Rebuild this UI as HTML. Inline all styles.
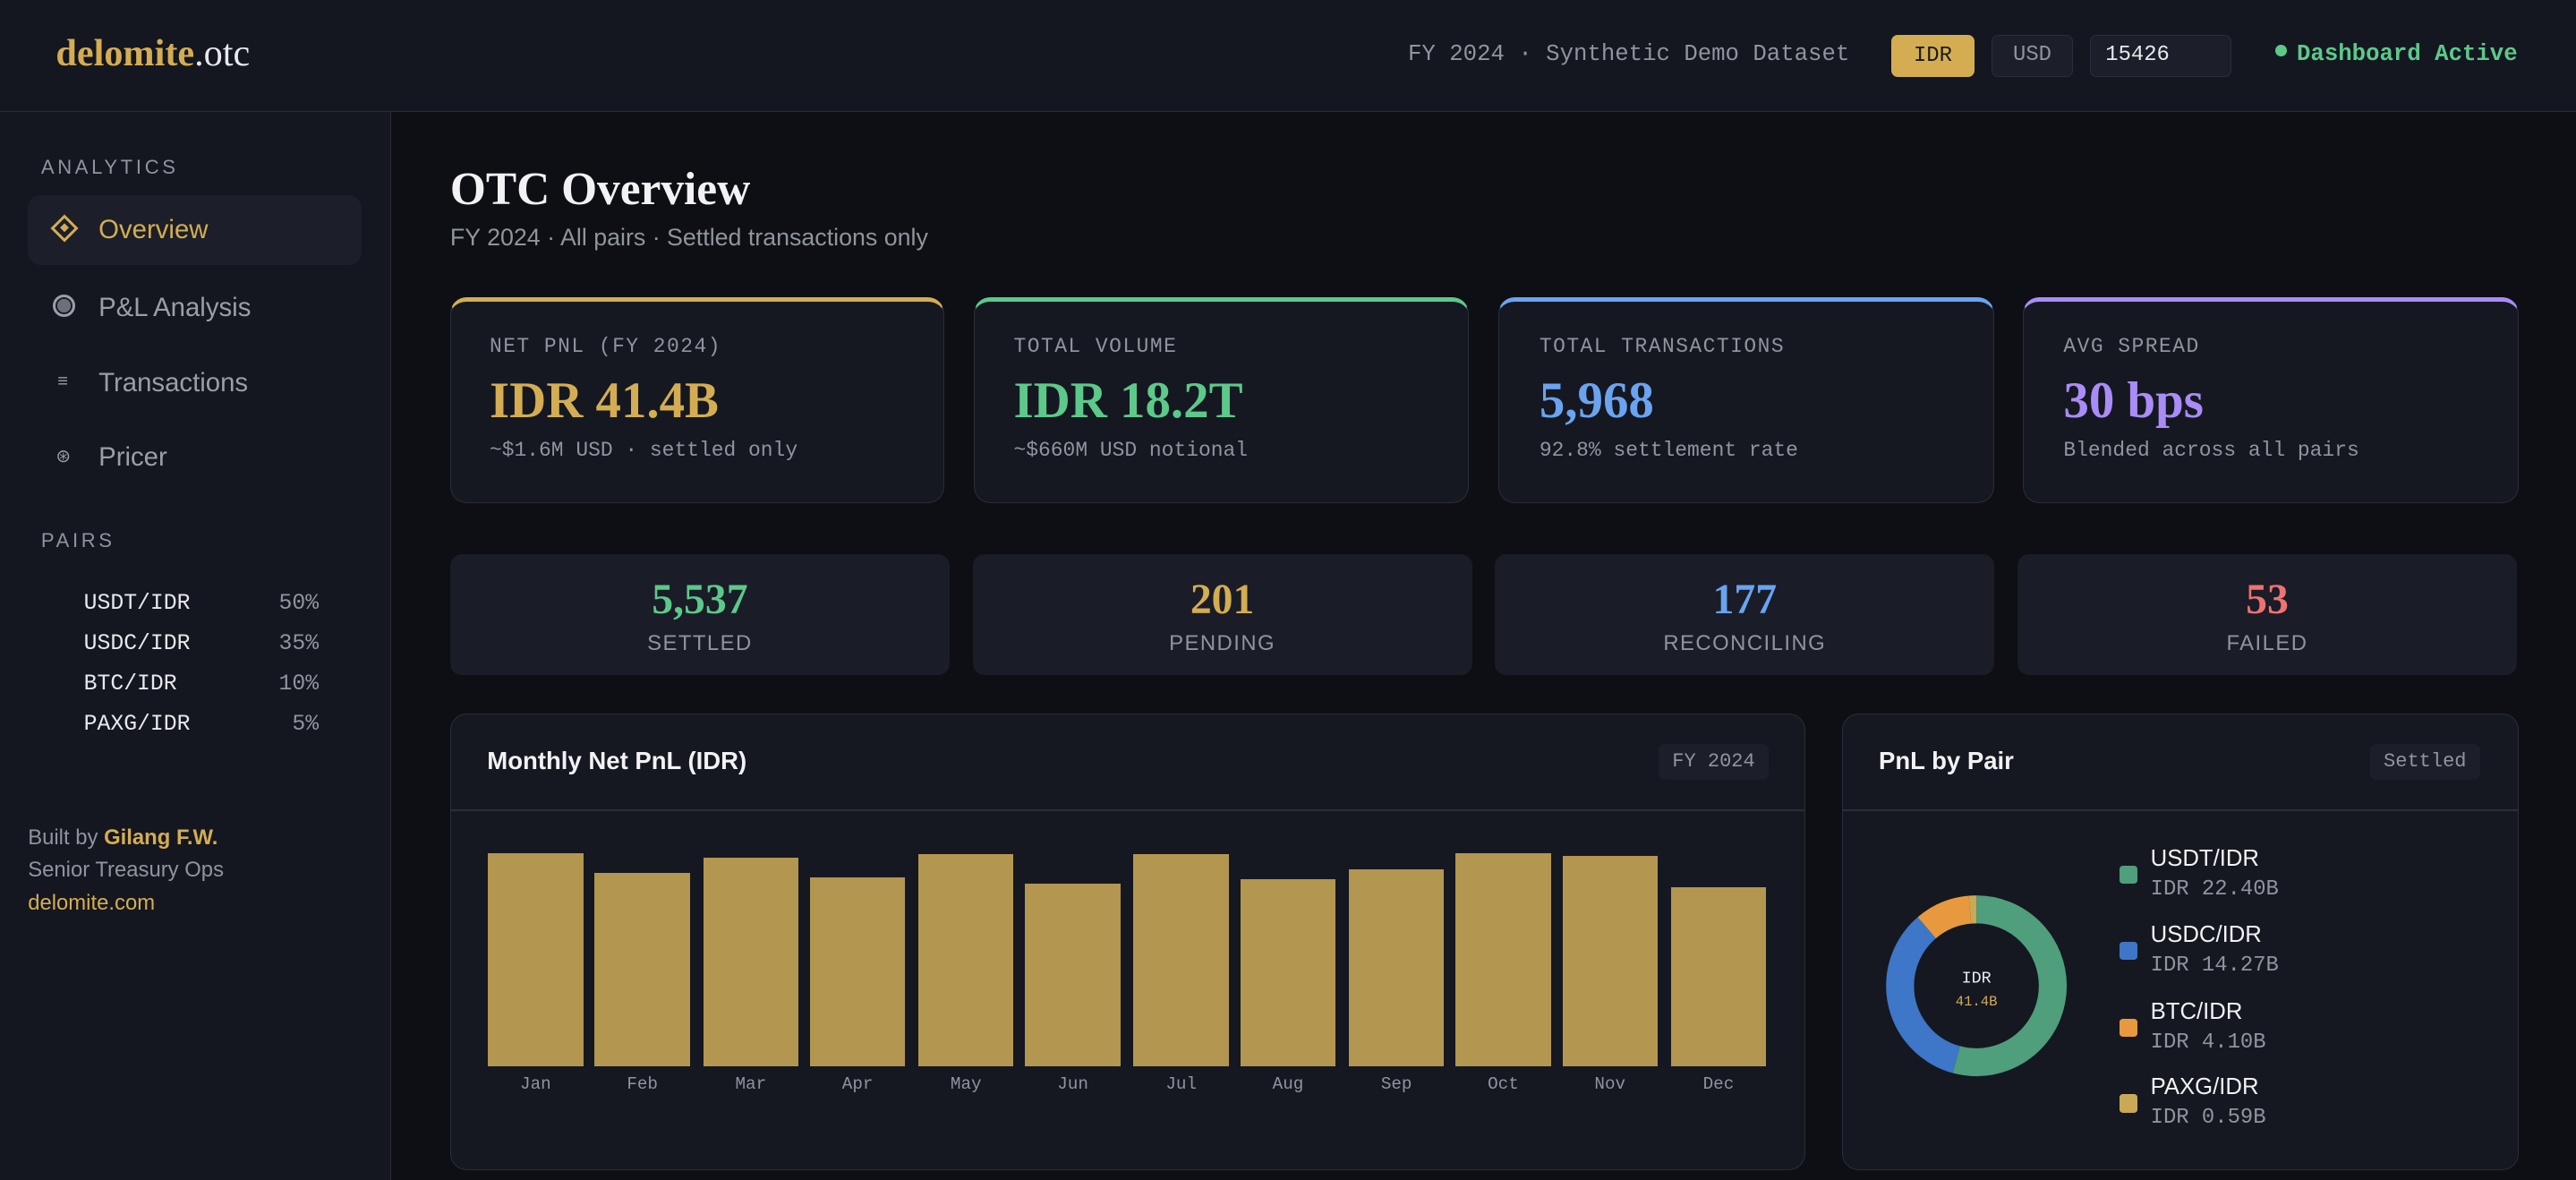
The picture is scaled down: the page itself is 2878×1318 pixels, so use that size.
<!DOCTYPE html>
<html><head><meta charset="utf-8"><style>
*{margin:0;padding:0;box-sizing:border-box}
html,body{width:2878px;height:1318px;overflow:hidden;background:#0d0f14}
#r{zoom:1.8355;width:1568px;height:718px;position:relative;font-family:"Liberation Sans",sans-serif;color:#e8e9ec}
.a{position:absolute;white-space:nowrap}
.mono{font-family:"Liberation Mono",monospace}
.serif{font-family:"Liberation Serif",serif;font-weight:bold}
.card{position:absolute;background:#151821;border:1px solid #2a2e38;border-radius:10px;overflow:hidden}
.lab{font-size:12.5px;letter-spacing:0.8px;color:#8f949e}
.big{font-size:31px;letter-spacing:0}
.sub{font-size:12.5px;color:#8f949e}
.st{position:absolute;top:337px;height:74px;background:#1a1d27;border-radius:7px;text-align:center}
.st .n{font-family:"Liberation Serif",serif;font-weight:bold;font-size:26px;margin-top:13px;line-height:30px}
.st .l{font-size:13px;letter-spacing:0.8px;color:#8f949e;margin-top:4px}
.bar{position:absolute;background:#b3964f;width:58px;bottom:69px}
.ml{position:absolute;top:654px;width:58px;text-align:center;font-size:10.5px;color:#8f949e;font-family:"Liberation Mono",monospace}
</style></head><body><div id="r">
<div class="a" style="left:0;top:0;width:1568px;height:68px;background:#141720;border-bottom:1px solid #2a2e38"></div>
<div class="a" style="left:34px;top:19px;font-size:23px;font-family:'Liberation Serif',serif"><b style="color:#d4ad52">delomite</b><span style="color:#e8e9ec">.otc</span></div>
<div class="a mono" style="left:857px;top:25px;font-size:14px;color:#8f949e">FY 2024 · Synthetic Demo Dataset</div>
<div class="a mono" style="left:1151px;top:21px;width:51px;height:26px;background:#d4ad52;border-radius:4px;color:#1a1a1a;font-size:13px;text-align:center;line-height:26px">IDR</div>
<div class="a mono" style="left:1212px;top:21px;width:50px;height:26px;background:#1c1f29;border:1px solid #2a2e38;border-radius:4px;color:#8f949e;font-size:13px;text-align:center;line-height:24px">USD</div>
<div class="a mono" style="left:1272px;top:21px;width:86px;height:26px;background:#1c1f29;border:1px solid #2a2e38;border-radius:4px;color:#e8e9ec;font-size:13px;line-height:24px;padding-left:9px">15426</div>
<div class="a mono" style="left:1385px;top:25px;font-size:14px;color:#5cc98a;font-weight:bold"><span style="display:inline-block;width:7px;height:7px;border-radius:50%;background:#5cc98a;vertical-align:2px;margin-right:6px"></span>Dashboard Active</div>
<div class="a" style="left:0;top:68px;width:238px;height:650px;background:#141720;border-right:1px solid #2a2e38"></div>
<div class="a lab" style="left:25px;top:95px;font-size:12px;letter-spacing:2px">ANALYTICS</div>
<div class="a" style="left:17px;top:119px;width:203px;height:42px;background:#1c1f29;border-radius:8px"></div>
<div class="a" style="left:33px;top:133px;width:12px;height:12px;border:2px solid #d4ad52;transform:rotate(45deg)"><div style="margin:2px;width:4px;height:4px;background:#d4ad52"></div></div>
<div class="a" style="left:60px;top:131px;font-size:16px;color:#d4ad52">Overview</div>
<div class="a" style="left:32px;top:179px;width:14px;height:14px;border-radius:50%;background:#6b707a;border:2px solid #9a9ea6;box-shadow:inset 0 0 0 1px #141720"></div>
<div class="a" style="left:60px;top:178px;font-size:16px;color:#9a9ea6">P&amp;L Analysis</div>
<div class="a" style="left:35px;top:226px;font-size:11px;color:#9a9ea6">≡</div>
<div class="a" style="left:60px;top:224px;font-size:16px;color:#9a9ea6">Transactions</div>
<div class="a" style="left:34px;top:271px;font-size:11px;color:#9a9ea6">⊛</div>
<div class="a" style="left:60px;top:269px;font-size:16px;color:#9a9ea6">Pricer</div>
<div class="a lab" style="left:25px;top:322px;font-size:12px;letter-spacing:2px">PAIRS</div>
<div class="a mono" style="left:51px;top:355px;font-size:13.5px;line-height:24.5px;color:#e8e9ec">USDT/IDR<br>USDC/IDR<br>BTC/IDR<br>PAXG/IDR</div>
<div class="a mono" style="left:150px;width:44px;top:355px;font-size:13.5px;line-height:24.5px;color:#8f949e;text-align:right">50%<br>35%<br>10%<br>5%</div>
<div class="a" style="left:17px;top:500px;font-size:13px;line-height:20px;color:#8f949e">Built by <b style="color:#d4ad52">Gilang F.W.</b><br>Senior Treasury Ops<br><span style="color:#d4ad52">delomite.com</span></div>
<div class="a serif" style="left:274px;top:99px;font-size:28px;color:#f2f2f4">OTC Overview</div>
<div class="a" style="left:274px;top:136px;font-size:14.6px;color:#8f949e">FY 2024 · All pairs · Settled transactions only</div>
<div class="card" style="left:274px;top:181px;width:301px;height:125px;border-top:3px solid #d4ad52"></div>
<div class="card" style="left:593px;top:181px;width:301px;height:125px;border-top:3px solid #5cc98a"></div>
<div class="card" style="left:912px;top:181px;width:302px;height:125px;border-top:3px solid #6aa3f0"></div>
<div class="card" style="left:1231px;top:181px;width:302px;height:125px;border-top:3px solid #a98cf5"></div>
<div class="a mono lab" style="left:298px;top:204px">NET PNL (FY 2024)</div>
<div class="a mono lab" style="left:617px;top:204px">TOTAL VOLUME</div>
<div class="a mono lab" style="left:937px;top:204px">TOTAL TRANSACTIONS</div>
<div class="a mono lab" style="left:1256px;top:204px">AVG SPREAD</div>
<div class="a serif big" style="left:298px;top:226px;color:#d4ad52">IDR 41.4B</div>
<div class="a serif big" style="left:617px;top:226px;color:#5cc98a">IDR 18.2T</div>
<div class="a serif big" style="left:937px;top:226px;color:#6aa3f0">5,968</div>
<div class="a serif big" style="left:1256px;top:226px;color:#a98cf5">30 bps</div>
<div class="a mono sub" style="left:298px;top:267px">~$1.6M USD · settled only</div>
<div class="a mono sub" style="left:617px;top:267px">~$660M USD notional</div>
<div class="a mono sub" style="left:937px;top:267px">92.8% settlement rate</div>
<div class="a mono sub" style="left:1256px;top:267px">Blended across all pairs</div>
<div class="st" style="left:274px;width:304px"><div class="n" style="color:#5cc98a">5,537</div><div class="l">SETTLED</div></div>
<div class="st" style="left:592px;width:304px"><div class="n" style="color:#d4ad52">201</div><div class="l">PENDING</div></div>
<div class="st" style="left:910px;width:304px"><div class="n" style="color:#6aa3f0">177</div><div class="l">RECONCILING</div></div>
<div class="st" style="left:1228px;width:304px"><div class="n" style="color:#ef7272">53</div><div class="l">FAILED</div></div>
<div class="card" style="left:274px;top:434px;width:825px;height:278px">
<div style="position:absolute;left:0;top:58px;width:100%;height:1px;background:#2a2e38"></div>
<div class="a" style="left:22px;top:20px;font-size:15px;font-weight:bold;color:#f2f2f4">Monthly Net PnL (IDR)</div>
<div class="a mono" style="left:735px;top:18px;width:67px;height:22px;background:#1c1f29;border-radius:4px;font-size:12px;color:#8f949e;text-align:center;line-height:22px">FY 2024</div>
</div>
<div class="bar" style="left:297px;top:519px"></div>
<div class="bar" style="left:362px;top:531px"></div>
<div class="bar" style="left:428px;top:522px"></div>
<div class="bar" style="left:493px;top:534px"></div>
<div class="bar" style="left:559px;top:520px"></div>
<div class="bar" style="left:624px;top:538px"></div>
<div class="bar" style="left:690px;top:520px"></div>
<div class="bar" style="left:755px;top:535px"></div>
<div class="bar" style="left:821px;top:529px"></div>
<div class="bar" style="left:886px;top:519px"></div>
<div class="bar" style="left:951px;top:521px"></div>
<div class="bar" style="left:1017px;top:540px"></div>
<div class="ml" style="left:297px">Jan</div><div class="ml" style="left:362px">Feb</div><div class="ml" style="left:428px">Mar</div><div class="ml" style="left:493px">Apr</div><div class="ml" style="left:559px">May</div><div class="ml" style="left:624px">Jun</div><div class="ml" style="left:690px">Jul</div><div class="ml" style="left:755px">Aug</div><div class="ml" style="left:821px">Sep</div><div class="ml" style="left:886px">Oct</div><div class="ml" style="left:951px">Nov</div><div class="ml" style="left:1017px">Dec</div>
<div class="card" style="left:1121px;top:434px;width:412px;height:278px">
<div style="position:absolute;left:0;top:58px;width:100%;height:1px;background:#2a2e38"></div>
<div class="a" style="left:22px;top:20px;font-size:15px;font-weight:bold;color:#f2f2f4">PnL by Pair</div>
<div class="a mono" style="left:321px;top:18px;width:67px;height:22px;background:#1c1f29;border-radius:4px;font-size:12px;color:#8f949e;text-align:center;line-height:22px">Settled</div>
</div>
<svg class="a" style="left:1143px;top:540px" width="120" height="120" viewBox="0 0 120 120">
<g transform="rotate(-90 60 60)" fill="none" stroke-width="17">
<circle cx="60" cy="60" r="46.5" stroke="#4f9e7c" stroke-dasharray="158.4 400" stroke-dashoffset="0"/>
<circle cx="60" cy="60" r="46.5" stroke="#3e76c8" stroke-dasharray="100.8 400" stroke-dashoffset="-158.4"/>
<circle cx="60" cy="60" r="46.5" stroke="#e8993d" stroke-dasharray="28.9 400" stroke-dashoffset="-259.2"/>
<circle cx="60" cy="60" r="46.5" stroke="#c9a955" stroke-dasharray="4.1 400" stroke-dashoffset="-288.1"/>
</g>
<text x="60" y="58" text-anchor="middle" font-family="Liberation Mono,monospace" font-size="10" fill="#e8e9ec">IDR</text>
<text x="60" y="72" text-anchor="middle" font-family="Liberation Mono,monospace" font-size="8.5" fill="#d4ad52">41.4B</text>
</svg>
<div class="a" style="left:1290px;top:527px;width:11px;height:11px;border-radius:2px;background:#4f9e7c"></div>
<div class="a" style="left:1290px;top:573px;width:11px;height:11px;border-radius:2px;background:#3e76c8"></div>
<div class="a" style="left:1290px;top:620px;width:11px;height:11px;border-radius:2px;background:#e8993d"></div>
<div class="a" style="left:1290px;top:666px;width:11px;height:11px;border-radius:2px;background:#c9a955"></div>
<div class="a" style="left:1309px;top:515px;font-size:14px;color:#f2f2f4">USDT/IDR</div><div class="a mono" style="left:1309px;top:534px;font-size:13px;color:#8f949e">IDR 22.40B</div>
<div class="a" style="left:1309px;top:561px;font-size:14px;color:#f2f2f4">USDC/IDR</div><div class="a mono" style="left:1309px;top:580px;font-size:13px;color:#8f949e">IDR 14.27B</div>
<div class="a" style="left:1309px;top:608px;font-size:14px;color:#f2f2f4">BTC/IDR</div><div class="a mono" style="left:1309px;top:627px;font-size:13px;color:#8f949e">IDR 4.10B</div>
<div class="a" style="left:1309px;top:654px;font-size:14px;color:#f2f2f4">PAXG/IDR</div><div class="a mono" style="left:1309px;top:673px;font-size:13px;color:#8f949e">IDR 0.59B</div>
</div></body></html>
